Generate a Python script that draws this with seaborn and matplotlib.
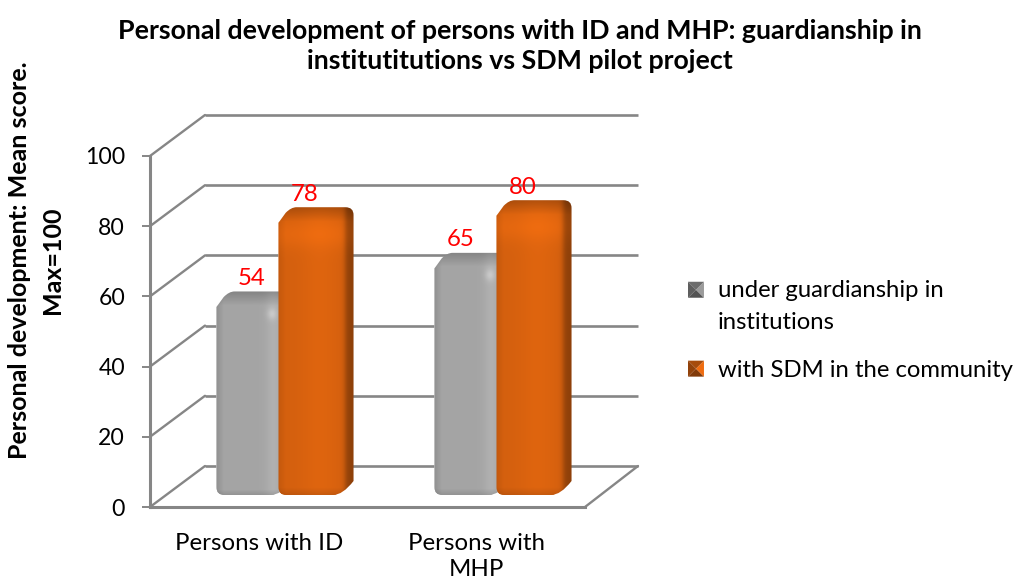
import numpy as np
import pandas as pd
import seaborn as sns
import matplotlib.pyplot as plt
from matplotlib.lines import Line2D
from matplotlib.patches import PathPatch, Polygon, Patch
from matplotlib.path import Path
from matplotlib.legend_handler import HandlerBase

# chart data
groups = ["Persons with ID", "Persons with\nMHP"]
series = ["under guardianship in\ninstitutions", "with SDM in the community"]
guardianship = [54, 65]
sdm = [78, 80]
yticks = [0, 20, 40, 60, 80, 100]

W, H = 1016, 586
GRID = "#868686"
GRAY = np.array([168, 168, 168]) / 255
ORANGE = np.array([208, 94, 14]) / 255

sns.set_theme(style="white")
plt.rcParams["font.family"] = ["Lato", "DejaVu Sans"]

fig = plt.figure(figsize=(W / 100, H / 100), dpi=100)


def add_axes(left, right, bottom, top):
    # pixel box -> axes, y counted from the top of the picture
    ax = fig.add_axes([left / W, 1 - bottom / H, (right - left) / W, (bottom - top) / H])
    ax.patch.set_alpha(0)
    return ax


def px_line(x0, y0, x1, y1):
    fig.add_artist(Line2D([x0 / W, x1 / W], [1 - y0 / H, 1 - y1 / H], color=GRID, lw=1.7,
                          solid_capstyle="round", zorder=0))


# back wall with the gridlines
back = add_axes(205, 638, 466, 115)
back.set_ylim(0, 100)
back.set_xlim(0, 1)
back.hlines(yticks, 0, 1, color=GRID, lw=1.9, clip_on=False)
back.axis("off")

# front plane carries the axis and tick labels
front = add_axes(150, 585, 507, 156)
front.set_xlim(-0.5, 1.5)
front.set_ylim(0, 100)
front.set_xticks(range(len(groups)), groups)
front.set_yticks(yticks)
front.tick_params(axis="y", length=6, width=1.4, color=GRID, labelsize=16.6, labelcolor="black", pad=12, left=True)
front.tick_params(axis="x", length=0, labelsize=17.3, labelcolor="black", pad=19)
for lab in front.get_xticklabels():
    lab.set_linespacing(1.3)
    lab.set_verticalalignment("top")
sns.despine(ax=front, top=True, right=True)
front.spines["left"].set_color(GRID)
front.spines["left"].set_linewidth(2.2)
front.spines["bottom"].set_color(GRID)
front.spines["bottom"].set_linewidth(2.2)
for v in yticks:
    yy = 507 - v * 3.51
    px_line(150, yy, 205, yy - 41)
px_line(585, 507, 638, 466)

# bars stand a little behind the front plane
bars = add_axes(167, 603, 495, 144)
df = pd.DataFrame({
    "group": groups * 2,
    "series": [series[0]] * 2 + [series[1]] * 2,
    "score": guardianship + sdm,
})
sns.barplot(data=df, x="group", y="score", hue="series", hue_order=series,
            palette=[GRAY, ORANGE], width=0.569, gap=0.08, saturation=1,
            legend=False, ax=bars)

DX = 18 / 218
DY = 14 / 3.51
# the value labels are not quite centred in the original
label_shift = [7, -2, -2, -2]


def silhouette(x0, x1, top):
    # bevelled outline: front face plus the depth going up and right
    rx, ry = DX * 0.45, DY * 0.55
    pts = [
        (Path.MOVETO, (x0, ry)), (Path.CURVE3, (x0, 0)), (Path.CURVE3, (x0 + rx, 0)),
        (Path.LINETO, (x1 - rx * 0.3, 0)), (Path.CURVE3, (x1 + DX * 0.4, 0)), (Path.CURVE3, (x1 + DX, DY)),
        (Path.LINETO, (x1 + DX, top + DY - ry)), (Path.CURVE3, (x1 + DX, top + DY)), (Path.CURVE3, (x1 + DX - rx, top + DY)),
        (Path.LINETO, (x0 + DX, top + DY)), (Path.CURVE3, (x0 + DX * 0.7, top + DY)), (Path.CURVE3, (x0 + DX * 0.4, top + DY * 0.6)),
        (Path.LINETO, (x0, top - ry * 0.2)), (Path.LINETO, (x0, ry)), (Path.CLOSEPOLY, (x0, ry)),
    ]
    return Path([p[1] for p in pts], [p[0] for p in pts])


def shade(base, is_gray, x0, x1, top, h_px):
    nx = 75
    ny = max(int(h_px), 2)
    u = np.linspace(0, 1, nx)
    # across the bar: dark left edge, soft middle, dark right side
    if is_gray:
        across = 0.86 + 0.12 * np.clip(u / 0.1, 0, 1) + 0.07 * np.exp(-((u - 0.76) / 0.1) ** 2)
    else:
        across = 0.94 + 0.08 * np.clip(u / 0.1, 0, 1) + 0.05 * np.exp(-((u - 0.55) / 0.25) ** 2)
        across *= 1 - 0.33 * 0.5 * (1 + np.tanh((u - 0.89) / 0.04))
    v = np.linspace(0, 1, ny)
    bevel = DY / (top + DY)
    along = 1 - 0.2 * np.clip((v - (1 - bevel)) / bevel, 0, 1)
    along = along * (1 - 0.10 * np.clip((0.025 - v) / 0.025, 0, 1))
    if not is_gray:
        along = along + 0.07 * np.exp(-((v - (1 - bevel * 1.9)) / 0.05) ** 2)
    img = np.outer(along, across)[..., None] * base
    if is_gray:
        # small glint just under the top bevel
        vv = (v - (1 - bevel * 1.6)) * h_px / 6
        uu = (u - 0.74) * nx / 5
        img = img + 0.1 * np.outer(np.exp(-vv ** 2), np.exp(-uu ** 2))[..., None]
    return np.clip(img, 0, 1)


for i, rect in enumerate(bars.patches):
    x0 = rect.get_x()
    x1 = x0 + rect.get_width()
    top = rect.get_height()
    is_gray = i < 2
    outline = PathPatch(silhouette(x0, x1, top), fc="none", ec="none", transform=bars.transData)
    bars.add_patch(outline)
    rect.set_clip_path(outline)
    img = bars.imshow(shade(GRAY if is_gray else ORANGE, is_gray, x0, x1, top, (top + DY) * 3.51),
                      extent=[x0, x1 + DX, 0, top + DY], origin="lower", aspect="auto",
                      interpolation="bilinear", zorder=3 + i)
    img.set_clip_path(outline)
    bars.annotate(f"{top:.0f}", (x0 + (x1 - x0) / 2, top), xytext=(label_shift[i], 27), textcoords="offset pixels",
                  ha="center", va="center", color="#FF0000", fontsize=17.3, zorder=20, annotation_clip=False)

bars.set_xlim(-0.5, 1.5)
bars.set_ylim(0, 100)
bars.axis("off")


class PyramidHandler(HandlerBase):
    # legend swatch: small square with four shaded facets, level with the first text line
    def create_artists(self, legend, orig, xd, yd, width, height, fontsize, trans):
        base = np.array(orig.get_facecolor()[:3])
        s = 11.5
        x = -xd
        y = -yd + (height - s) / 2
        if "\n" in orig.get_label():
            y += 12
        c = (x + s / 2, y + s / 2)
        a, b, d, e = (x, y), (x + s, y), (x + s, y + s), (x, y + s)
        facets = [((a, b, c), 0.62), ((b, d, c), 1.15), ((d, e, c), 0.8), ((e, a, c), 0.7)]
        return [Polygon(p, fc=np.clip(base * k, 0, 1), ec="none", transform=trans) for p, k in facets]


handles = [Patch(fc=GRAY * 0.8, label=series[0]), Patch(fc=ORANGE, label=series[1])]
leg = fig.legend(handles=handles, loc="upper left", bbox_to_anchor=(688 / W, 1 - 280 / H), frameon=False,
                 fontsize=17.2, handler_map={Patch: PyramidHandler()}, handlelength=1.02, handletextpad=0.22,
                 labelspacing=1.15, borderpad=0, borderaxespad=0, labelcolor="black")
for t in leg.get_texts():
    t.set_linespacing(1.62)

fig.text(520 / W, 1 - 46 / H,
         "Personal development of persons with ID and MHP: guardianship in\ninstitutitutions vs SDM pilot project",
         ha="center", va="center", fontsize=19.3, fontweight="bold", color="black", linespacing=1.27)
fig.text(36 / W, 1 - 260 / H, "Personal development: Mean score.\nMax=100", rotation=90,
         ha="center", va="center", fontsize=18, fontweight="bold", color="black", linespacing=1.5)

fig.savefig("out.png", dpi=100)
